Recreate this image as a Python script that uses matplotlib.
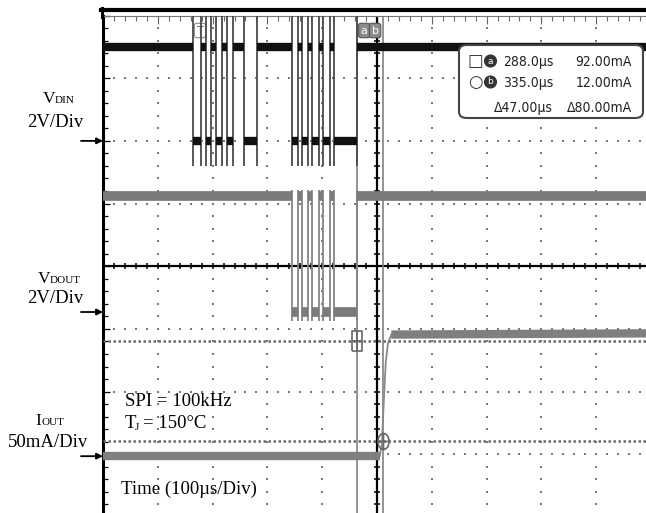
import numpy as np
import matplotlib
matplotlib.use('Agg')
import matplotlib.pyplot as plt
from matplotlib import font_manager
from matplotlib.path import Path
from matplotlib.transforms import Affine2D
from matplotlib.patches import FancyBboxPatch
from matplotlib.lines import Line2D

plt.rcParams['font.family'] = ['Liberation Serif', 'DejaVu Serif']

W, H = 646, 513

# scope settings
t_left = -176.0          # us at left edge of the screen, trigger at 0
us_per_div = 100.0
ch_names = ['VDIN', 'VDOUT', 'IOUT']
ch_per_div = [2.0, 2.0, 50.0]      # V/div, V/div, mA/div
ch_ground = [2.0, -0.73, -3.03]    # ground marker, divisions from centre

# VDIN (V): edge times in us, trace starts high
vdin_edges = [-12, 3, 12, 21, 30, 41, 50, 61, 81, 105,
              169, 180, 187, 198, 205, 218, 225, 238, 245, 288]
vdin_levels = [3.0, 0.0]
vdin_edge_span = [-0.8, 4.0]

# VDOUT (V)
vdout_edges = [169, 180, 187, 198, 205, 218, 225, 238, 245, 288]
vdout_levels = [3.7, 0.0]
vdout_edge_span = [-0.3, 3.9]

# IOUT (mA)
iout_t = [-176, 329, 333, 336, 340, 344, 350, 824]
iout_ma = [0, 0, 10, 40, 75, 90, 97, 98]

# cursors
cur_t = [288.0, 335.0]
cur_i = [92.0, 12.0]


def fx(px):
    return px / W


def fy(py):
    return 1 - py / H


def level_segments(edges, levels, t0, t1):
    bounds = [t0] + list(edges) + [t1]
    lv = [levels[k % 2] for k in range(len(bounds) - 1)]
    return lv, bounds[:-1], bounds[1:]


# narrow sans for the readout, whatever is installed
fonts = font_manager.fontManager.ttflist
if any(f.name == 'Liberation Sans Narrow' for f in fonts):
    narrow = dict(family='Liberation Sans Narrow', fontsize=10.5)
elif any(f.name == 'DejaVu Sans' and f.stretch == 'condensed' for f in fonts):
    narrow = dict(family='DejaVu Sans', fontstretch='condensed', fontsize=10)
else:
    narrow = dict(family='Liberation Sans', fontsize=9.2)

fig = plt.figure(figsize=(W / 100, H / 100), dpi=100)
ax = fig.add_axes([fx(103), fy(517), 548 / W, 501.5 / H])
t_right = t_left + 10 * us_per_div
ax.set_xlim(t_left, t_right)
ax.set_ylim(-4, 4)

# graticule frame
for s in ['right', 'bottom']:
    ax.spines[s].set_visible(False)
ax.spines['left'].set_linewidth(2.2)
ax.spines['left'].set_color('black')
ax.spines['top'].set_linewidth(0.8)
ax.spines['top'].set_color('#777777')
ax.set_xticks(t_left + us_per_div * np.arange(11))
ax.set_xticks(np.arange(t_left, t_right + 0.1, 20), minor=True)
ax.set_yticks(np.arange(-4, 5))
ax.set_yticks(np.arange(-4, 4.01, 0.2), minor=True)
ax.tick_params(axis='x', which='both', direction='in', top=True, bottom=False,
               labeltop=False, labelbottom=False, color='#666666', width=0.8)
ax.tick_params(axis='x', which='major', length=6)
ax.tick_params(axis='x', which='minor', length=3.5)
ax.tick_params(axis='y', which='both', direction='in', left=True, right=False,
               labelleft=False, color='black', width=0.9)
ax.tick_params(axis='y', which='major', length=5)
ax.tick_params(axis='y', which='minor', length=3.5)

# dotted grid
t_cols = t_left + us_per_div * np.array([1, 2, 3, 4, 6, 7, 8, 9])
y_dots = np.arange(-4, 4.01, 0.2)
X, Y = np.meshgrid(t_cols, y_dots)
ax.plot(X.ravel(), Y.ravel(), 's', ms=1.7, mew=0, color='#7a7a7a')
x_dots = np.arange(t_left, t_right + 0.1, 20)
X, Y = np.meshgrid(x_dots, [-3, -2, -1, 1, 2, 3])
ax.plot(X.ravel(), Y.ravel(), 's', ms=1.7, mew=0, color='#7a7a7a')

# centre axes with ticks
t_mid = t_left + 5 * us_per_div
ax.axhline(0, color='black', lw=1.6)
ax.axvline(t_mid, color='black', lw=1.6)
ax.plot(x_dots, np.zeros_like(x_dots), '|', ms=5, mew=1.1, color='black')
ax.plot(np.full_like(y_dots, t_mid), y_dots, '_', ms=5, mew=1.1, color='black')

# one overlay axes per channel, scaled like the scope
ch_ax = {}
for name, s, g in zip(ch_names, ch_per_div, ch_ground):
    a = ax.twinx()
    a.set_ylim((-4 - g) * s, (4 - g) * s)
    a.axis('off')
    ch_ax[name] = a

# VDIN
a = ch_ax['VDIN']
lv, st, en = level_segments(vdin_edges, vdin_levels, t_left, t_right)
a.vlines(vdin_edges, vdin_edge_span[0], vdin_edge_span[1], color='#4a4a4a', lw=1.3)
a.hlines(lv, st, en, color='#111111', lw=6)

# VDOUT
a = ch_ax['VDOUT']
lv, st, en = level_segments(vdout_edges, vdout_levels, t_left, t_right)
a.vlines(vdout_edges, vdout_edge_span[0], vdout_edge_span[1], color='#858585', lw=1.3)
a.hlines(lv, st, en, color='#7b7b7b', lw=7)

# IOUT
a = ch_ax['IOUT']
a.plot(iout_t, iout_ma, color='#8a8a8a', lw=1.3)
a.plot(iout_t[:2], iout_ma[:2], color='#7f7f7f', lw=6, solid_capstyle='butt')
a.plot(iout_t[-2:], iout_ma[-2:], color='#7f7f7f', lw=6, solid_capstyle='butt')

# cursors
for t in cur_t:
    ax.axvline(t, color='#777777', lw=1.1)
for i in cur_i:
    a.axhline(i, color='#6a6a6a', lw=1.8, ls=(0, (1, 1)))

box_marker = Path([(-.25, -.5), (.25, -.5), (.25, .5), (-.25, .5), (-.25, -.5),
                   (-.25, 0), (.25, 0), (0, -.5), (0, .5)],
                  [1, 2, 2, 2, 2, 1, 2, 1, 2])
ell = Affine2D().scale(0.35, 0.5).transform_path(Path.unit_circle())
circ_marker = Path.make_compound_path(
    ell, Path([(-.35, 0), (.35, 0), (0, -.5), (0, .5)], [1, 2, 1, 2]))
a.plot(cur_t[0], cur_i[0], marker=box_marker, ms=14.4, mfc='none', mec='#666666', mew=1.2)
a.plot(cur_t[1], cur_i[1], marker=circ_marker, ms=11.5, mfc='none', mec='#666666', mew=1.2)

lab = dict(xycoords=('data', 'axes fraction'), textcoords='offset pixels',
           ha='center', va='center', fontsize=8, family='DejaVu Sans',
           annotation_clip=False)
ax.annotate('a', xy=(cur_t[0], 1), xytext=(7, -15), color='white',
            bbox=dict(boxstyle='round,pad=0.2', fc='#8c8c8c', ec='#555555', lw=0.8), **lab)
ax.annotate('b', xy=(cur_t[1], 1), xytext=(-8, -15), color='white',
            bbox=dict(boxstyle='round,pad=0.2', fc='#8c8c8c', ec='#555555', lw=0.8), **lab)
ax.annotate('T', xy=(0, 1), xytext=(0.5, -15), color='#555555',
            bbox=dict(boxstyle='round,pad=0.2', fc='white', ec='#888888', lw=0.8), **lab)

# top bar and left border
fig.add_artist(Line2D([fx(101), fx(646)], [fy(10), fy(10)], color='black', lw=3))
fig.add_artist(Line2D([fx(102), fx(102)], [fy(8), fy(17)], color='black', lw=2.2))

# ground arrows
for g in ch_ground:
    ax.annotate('', xy=(0, g), xycoords=('axes fraction', 'data'),
                xytext=(-22, 0), textcoords='offset pixels', annotation_clip=False,
                arrowprops=dict(arrowstyle='-|>', color='black', lw=1.3,
                                mutation_scale=9, shrinkA=0, shrinkB=0))

# channel labels
fig.text(fx(55), fy(103), 'V', ha='right', va='baseline', fontsize=12.5)
fig.text(fx(55), fy(103), 'DIN', ha='left', va='baseline', fontsize=8)
fig.text(fx(55.5), fy(127), '2V/Div', ha='center', va='baseline', fontsize=13.5)
fig.text(fx(50), fy(283), 'V', ha='right', va='baseline', fontsize=12.5)
fig.text(fx(50), fy(283), 'DOUT', ha='left', va='baseline', fontsize=8)
fig.text(fx(55.5), fy(303), '2V/Div', ha='center', va='baseline', fontsize=13.5)
fig.text(fx(41), fy(425), 'I', ha='right', va='baseline', fontsize=12.5)
fig.text(fx(41), fy(425), 'OUT', ha='left', va='baseline', fontsize=8)
fig.text(fx(48), fy(447), '50mA/Div', ha='center', va='baseline', fontsize=13.5)

# conditions
fig.text(fx(125), fy(406), 'SPI = 100kHz', ha='left', va='baseline', fontsize=13.5)
fig.text(fx(125), fy(428), 'T', ha='left', va='baseline', fontsize=13.5)
fig.text(fx(135), fy(430), 'J', ha='left', va='baseline', fontsize=8)
fig.text(fx(143), fy(428), '= 150°C', ha='left', va='baseline', fontsize=13.5)
fig.text(fx(121), fy(494), 'Time (100µs/Div)', ha='left', va='baseline', fontsize=13.5)

# cursor readout box
box = FancyBboxPatch((fx(459), fy(118)), (643 - 459) / W, (118 - 45) / H,
                     boxstyle='round,pad=0,rounding_size=0.012',
                     transform=fig.transFigure, fc='white', ec='#444444', lw=1.5, zorder=5)
fig.add_artist(box)
rows = [
    (66, f'{cur_t[0]:.1f}µs', f'{cur_i[0]:.2f}mA'),
    (87, f'{cur_t[1]:.1f}µs', f'{cur_i[1]:.2f}mA'),
    (112, f'Δ{cur_t[1] - cur_t[0]:.2f}µs', f'Δ{cur_i[0] - cur_i[1]:.2f}mA'),
]
for yb, ts, cs in rows:
    fig.text(fx(553), fy(yb), ts, ha='right', va='baseline',
             color='#222222', zorder=6, **narrow)
    fig.text(fx(632), fy(yb), cs, ha='right', va='baseline',
             color='#222222', zorder=6, **narrow)
for yc, sym, letter in [(61, '□', 'a'), (82, '○', 'b')]:
    fig.text(fx(475.5), fy(yc), sym, ha='center', va='center', fontsize=12,
             family='DejaVu Sans', color='#333333', zorder=6)
    fig.text(fx(490.5), fy(yc), letter, ha='center', va='center', fontsize=6.5,
             family='DejaVu Sans', color='white', zorder=6,
             bbox=dict(boxstyle='circle,pad=0.15', fc='#333333', ec='#333333'))

ax.set_xlim(t_left, t_right)
fig.savefig('out.png', dpi=100)
